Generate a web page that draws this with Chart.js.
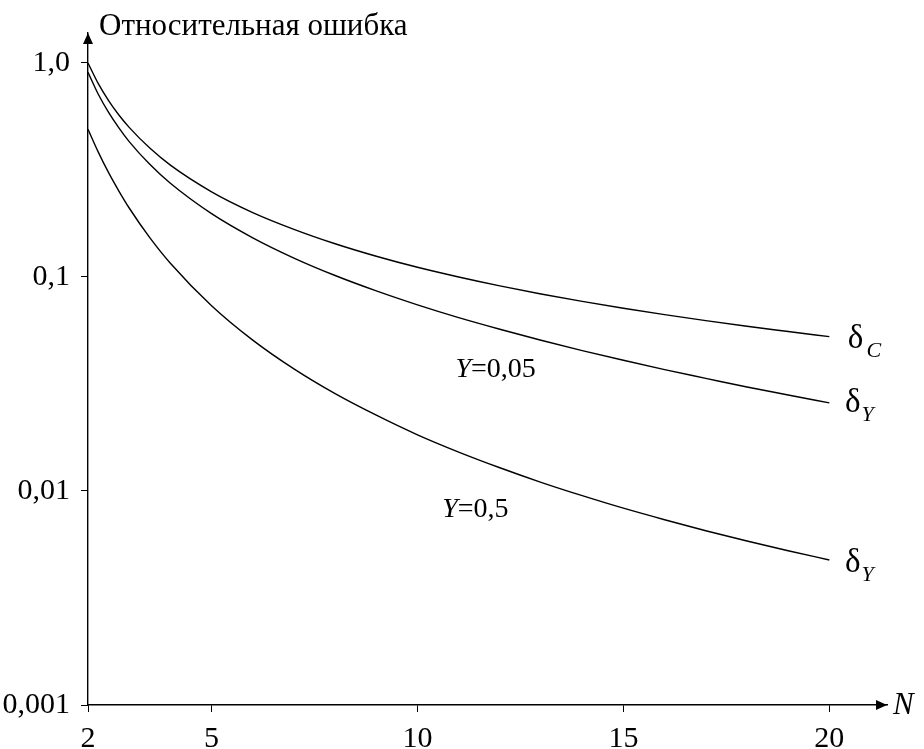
<!DOCTYPE html>
<html>
<head>
<meta charset="utf-8">
<script src="https://cdn.jsdelivr.net/npm/chart.js@4.4.1/dist/chart.umd.min.js"></script>
<style>
  body { margin: 0; background: #fff; }
</style>
</head>
<body>
<canvas id="errChart" width="924" height="749"></canvas>
<script>
// values
const nValues = [2, 2.25, 2.5, 2.75, 3, 3.5, 4, 5, 6, 7, 8, 9, 10, 11, 12, 13, 14, 15, 16, 17, 18, 19, 20];
const deltaC = [1.0, 0.8, 0.667, 0.571, 0.5, 0.4, 0.333, 0.25, 0.2, 0.167, 0.143, 0.125, 0.111, 0.1, 0.0909, 0.0833, 0.0769, 0.0714, 0.0667, 0.0625, 0.0588, 0.0556, 0.0526];
const deltaY005 = [0.905, 0.714, 0.587, 0.497, 0.429, 0.336, 0.274, 0.1976, 0.1524, 0.1226, 0.1016, 0.0861, 0.0741, 0.0646, 0.057, 0.0506, 0.0453, 0.0408, 0.0369, 0.0336, 0.0306, 0.0281, 0.0258];
const deltaY05 = [0.49, 0.383, 0.307, 0.252, 0.21, 0.1527, 0.1159, 0.0734, 0.0507, 0.0372, 0.0285, 0.0226, 0.0183, 0.0152, 0.01284, 0.01098, 0.00951, 0.00831, 0.00734, 0.00652, 0.00584, 0.00526, 0.00476];

const xTicks = [2, 5, 10, 15, 20];
const yTicks = [0.001, 0.01, 0.1, 1];
const yTickLabels = ['0,001', '0,01', '0,1', '1,0'];

const FONT = "'Liberation Serif', 'Times New Roman', serif";

const toPoints = (arr) => nValues.map((n, i) => ({ x: n, y: arr[i] }));

const lineStyle = {
  borderColor: '#000',
  borderWidth: 1.4,
  pointRadius: 0,
  fill: false,
  cubicInterpolationMode: 'monotone',
  showLine: true
};

// text pieces placed in data coordinates: [text, italic, size, dy, gap]
const notes = [
  { x: 10.92, y: 0.0341, parts: [['Y', true, 28, 0, 0], ['=0,05', false, 28, 0, 0]] },
  { x: 10.6, y: 0.00756, parts: [['Y', true, 28, 0, 0], ['=0,5', false, 28, 0, 0]] },
  { x: 20.45, y: 0.0466, parts: [['δ', false, 33, 0, 3], ['C', true, 22, 9, 0]] },
  { x: 20.38, y: 0.0234, parts: [['δ', false, 33, 0, 1], ['Y', true, 22, 9, 0]] },
  { x: 20.38, y: 0.00418, parts: [['δ', false, 33, 0, 1], ['Y', true, 22, 9, 0]] }
];

const decorPlugin = {
  id: 'decor',
  afterDraw(chart) {
    const ctx = chart.ctx;
    const a = chart.chartArea;
    const xs = chart.scales.x, ys = chart.scales.y;
    ctx.save();
    ctx.fillStyle = '#000';

    // arrow heads
    ctx.beginPath();
    ctx.moveTo(a.left, a.top);
    ctx.lineTo(a.left - 5, a.top + 11);
    ctx.lineTo(a.left + 5, a.top + 11);
    ctx.closePath();
    ctx.fill();
    ctx.beginPath();
    ctx.moveTo(a.right, a.bottom);
    ctx.lineTo(a.right - 11, a.bottom - 5);
    ctx.lineTo(a.right - 11, a.bottom + 5);
    ctx.closePath();
    ctx.fill();

    // axis titles
    ctx.textBaseline = 'alphabetic';
    ctx.textAlign = 'left';
    ctx.font = '31px ' + FONT;
    ctx.fillText('Относительная ошибка', a.left + 11, a.top + 2);
    ctx.font = 'italic 31px ' + FONT;
    ctx.textBaseline = 'middle';
    ctx.fillText('N', a.right + 6, a.bottom + 1);

    // curve notes
    ctx.textBaseline = 'alphabetic';
    notes.forEach(nt => {
      let px = xs.getPixelForValue(nt.x);
      const py = ys.getPixelForValue(nt.y);
      nt.parts.forEach(([txt, it, sz, dy, gap]) => {
        ctx.font = (it ? 'italic ' : '') + sz + 'px ' + FONT;
        ctx.fillText(txt, px, py + dy);
        px += ctx.measureText(txt).width + gap;
      });
    });
    ctx.restore();
  }
};

new Chart(document.getElementById('errChart').getContext('2d'), {
  type: 'scatter',
  data: {
    datasets: [
      { label: 'δC', data: toPoints(deltaC), ...lineStyle },
      { label: 'δY, Y=0,05', data: toPoints(deltaY005), ...lineStyle },
      { label: 'δY, Y=0,5', data: toPoints(deltaY05), ...lineStyle }
    ]
  },
  options: {
    responsive: false,
    animation: false,
    layout: { padding: { top: 33, right: 37, left: 0, bottom: 0 } },
    plugins: { legend: { display: false }, tooltip: { enabled: false } },
    scales: {
      x: {
        type: 'linear',
        min: 2,
        max: 21.4,
        afterFit: s => { s.height = 44; },
        afterBuildTicks: s => { s.ticks = xTicks.map(v => ({ value: v })); },
        grid: { drawOnChartArea: false, color: '#000', tickLength: 7, lineWidth: 1 },
        border: { color: '#000', width: 1.4 },
        ticks: {
          color: '#000',
          font: { family: FONT, size: 30 },
          padding: 9,
          maxRotation: 0,
          autoSkip: false,
          callback: (v, i) => String(xTicks[i])
        }
      },
      y: {
        type: 'logarithmic',
        min: 0.001,
        max: 1.38,
        afterFit: s => { s.width = 88; },
        afterBuildTicks: s => { s.ticks = yTicks.map(v => ({ value: v })); },
        grid: { drawOnChartArea: false, color: '#000', tickLength: 7, lineWidth: 1 },
        border: { color: '#000', width: 1.4 },
        ticks: {
          color: '#000',
          font: { family: FONT, size: 30 },
          padding: 11,
          autoSkip: false,
          callback: (v, i) => yTickLabels[i]
        }
      }
    }
  },
  plugins: [decorPlugin]
});
</script>
</body>
</html>
